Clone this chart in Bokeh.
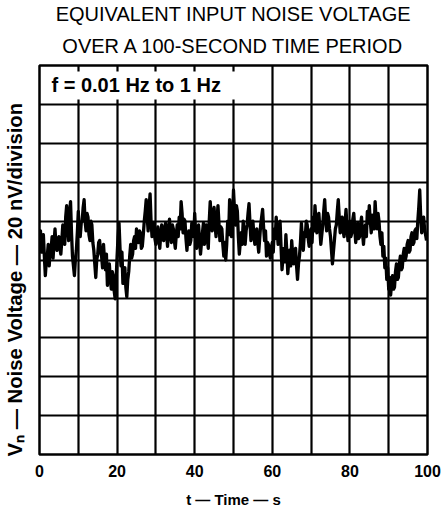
from bokeh.plotting import figure
from bokeh.models import Label, Range1d, FixedTicker, Title
from bokeh.embed import file_html
from bokeh.resources import INLINE

# ---------------- data ----------------
title_lines = ["EQUIVALENT INPUT NOISE VOLTAGE", "OVER A 100-SECOND TIME PERIOD"]
x_ticks = [0, 20, 40, 60, 80, 100]
x_grid = [0, 10, 20, 30, 40, 50, 60, 70, 80, 90, 100]
y_grid = [-100, -80, -60, -40, -20, 0, 20, 40, 60, 80, 100]
x_label = "t \u2014 Time \u2014 s"
y_label = "V\u2099 \u2014 Noise Voltage \u2014 20 nV/division"
band_label = "f  =  0.01 Hz to 1 Hz"

time_step_s = 0.25
noise_nv = [
    10, 15, 4, 9, 13, 2, -8, -1, 2, 8, -3, 5, 6, 12, 1, 9, 16, 7, 5, 11,
    12, 6, 3, 10, 18, 11, 8, 22, 28, 17, 10, 24, 30, 14, 2, -3, -8, 0, 5, 14,
    25, 16, 12, 19, 20, 27, 31, 20, 15, 24, 22, 13, 10, 20, 18, 9, 5, -2, -9, 0,
    3, 9, 10, 4, 2, -4, 8, 0, -5, 3, -13, -6, -2, -10, -15, -6, -8, -16, -20, -10,
    2, 12, 19, 6, -3, 4, -12, -5, -4, -14, -19, -10, -6, 2, 8, 1, 3, 10, 12, 6,
    16, 10, 9, 15, 14, 6, 7, 13, 20, 25, 31, 22, 15, 27, 34, 20, 12, 18, 19, 11,
    8, 14, 17, 11, 6, 13, 18, 12, 10, 16, 19, 13, 7, 15, 21, 14, 9, 18, 16, 10,
    6, 13, 18, 12, 22, 16, 30, 24, 14, 21, 20, 11, 5, 12, 15, 8, 10, 19, 17, 12,
    24, 14, 6, 12, 18, 10, 3, 9, 14, 19, 8, 14, 18, 11, 6, 20, 30, 22, 15, 24,
    27, 18, 12, 21, 28, 19, 10, 17, 16, 8, 2, 9, 0, 8, 20, 13, 31, 24, 12, 22,
    36, 26, 18, 28, 25, 12, 3, 9, 14, 8, 20, 13, 8, 15, 18, 24, 29, 19, 10, 17,
    20, 13, 8, 15, 16, 9, 4, 11, 18, 22, 26, 17, 10, 15, 2, 9, 8, 3, 1, 6,
    9, 4, 16, 11, 22, 15, 8, 14, 20, 7, -5, 1, 6, -1, 13, 4, -7, 0, 5, -3,
    10, 3, -2, 4, 6, -3, -10, -2, 2, 9, 19, 11, 5, 14, 12, 20, 18, 11, 7, 14,
    16, 9, 22, 15, 28, 20, 14, 22, 24, 16, 8, 13, 18, 25, 31, 21, 15, 24, 22, 16,
    12, 5, -2, 4, 10, 16, 18, 25, 31, 22, 14, 20, 22, 15, 12, 19, 26, 17, 10, 16,
    20, 12, 14, 21, 24, 16, 9, 15, 19, 11, 12, 18, 22, 14, 8, 15, 18, 12, 25, 19,
    28, 20, 14, 23, 22, 16, 30, 21, 16, 24, 20, 12, 8, 14, 2, 7, -4, 1, -10, -4,
    -15, -9, -18, -12, -8, -15, -14, -6, -2, -10, -9, -2, 2, -5, -4, 3, 6, 0, 2, 8,
    10, 4, 5, 12, 14, 8, 9, 15, 16, 11, 20, 27, 36, 22, 14, 20, 22, 16, 13, 10,
]
time_s = [i * time_step_s for i in range(len(noise_nv))]

# ---------------- layout ----------------
W, H = 443, 513
FL, FR, FT, FB = 37, 427, 63, 454   # frame edges in canvas px

p = figure(width=W, height=H, output_backend="svg", toolbar_location=None,
           x_range=Range1d(0, 100), y_range=Range1d(-100, 100),
           min_border_left=FL, min_border_right=W - FR,
           min_border_top=FT, min_border_bottom=H - FB)
p.background_fill_color = "white"
p.border_fill_color = "white"
p.outline_line_color = "black"
p.outline_line_width = 2.5

# title: two lines (added Title sits closest to the frame)
p.title.text = title_lines[0]
p.title.align = "center"
p.title.text_font = "Liberation Sans"
p.title.text_font_style = "normal"
p.title.text_font_size = "20px"
p.title.text_color = "black"
p.title.standoff = 0
p.add_layout(Title(text=title_lines[1], align="center", text_font="Liberation Sans",
                   text_font_style="normal", text_font_size="20px",
                   text_color="black", standoff=17), "above")

# x axis
xa = p.xaxis[0]
xa.ticker = FixedTicker(ticks=x_ticks)
xa.axis_line_color = None
xa.major_tick_line_color = None
xa.minor_tick_line_color = None
xa.major_label_standoff = 4
xa.major_label_text_font = "Liberation Sans"
xa.major_label_text_font_style = "bold"
xa.major_label_text_font_size = "16px"
xa.major_label_text_color = "black"
xa.axis_label = x_label
xa.axis_label_text_font = "Liberation Sans"
xa.axis_label_text_font_style = "bold"
xa.axis_label_text_font_size = "15px"
xa.axis_label_standoff = 11
xa.axis_label_text_color = "black"

# y axis (label only)
ya = p.yaxis[0]
ya.ticker = FixedTicker(ticks=[])
ya.axis_line_color = None
ya.major_tick_line_color = None
ya.minor_tick_line_color = None
ya.axis_label = y_label + "\u00a0" * 7
ya.axis_label_text_font = "Liberation Sans"
ya.axis_label_text_font_style = "bold"
ya.axis_label_text_font_size = "20.3px"
ya.axis_label_standoff = 14
ya.axis_label_text_color = "black"

p.xgrid.ticker = FixedTicker(ticks=x_grid)
p.ygrid.ticker = FixedTicker(ticks=y_grid)
for g in (p.xgrid[0], p.ygrid[0]):
    g.grid_line_color = "black"
    g.grid_line_width = 2.2
    g.grid_line_alpha = 1.0

p.line(time_s, noise_nv, line_color="black", line_width=3.3, line_join="round")

def dx(px):
    return (px - FL) / (FR - FL) * 100.0

def dy(py):
    return 100.0 - (py - FT) / (FB - FT) * 200.0

p.add_layout(Label(x=dx(46), y=dy(83), text=band_label, text_align="left",
                   text_baseline="middle", text_font="Liberation Sans",
                   text_font_style="bold", text_font_size="20px", text_color="black",
                   background_fill_color="white", padding=3))

open("out.html", "w").write(file_html(p, INLINE))
